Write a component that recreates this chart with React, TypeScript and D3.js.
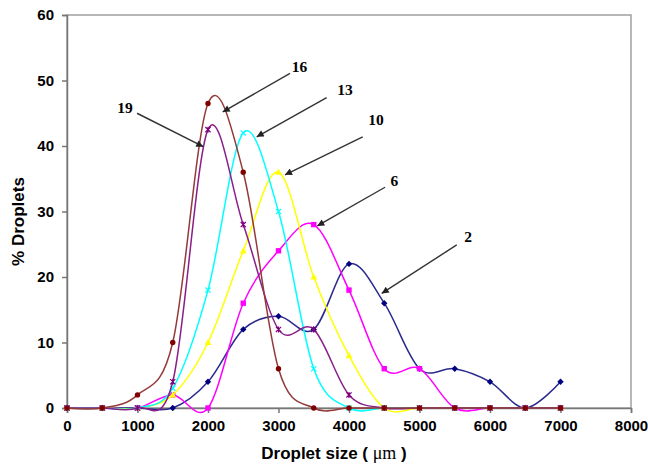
import * as React from 'react';
import * as d3 from 'd3';

// droplet size classes (um)
const sizes = [0, 500, 1000, 1500, 2000, 2500, 3000, 3500, 4000, 4500, 5000, 5500, 6000, 6500, 7000];

// % droplets per curve (label = number shown by the arrow)
const s2 = [0, 0, 0, 0, 4, 12, 14, 12, 22, 16, 6, 6, 4, 0, 4];
const s6 = [0, 0, 0, 2, 0, 16, 24, 28, 18, 6, 6, 0, 0, 0, 0];
const s10 = [0, 0, 0, 2, 10, 24, 36, 20, 8, 0, 0, 0, 0, 0, 0];
const s13 = [0, 0, 0, 3, 18, 42, 30, 6, 0, 0, 0, 0, 0, 0, 0];
const s19 = [0, 0, 0, 4, 42.5, 28, 12, 12, 2, 0, 0, 0, 0, 0, 0];
const s16 = [0, 0, 2, 10, 46.5, 36, 6, 0, 0, 0, 0, 0, 0, 0, 0];

const xTicks = [0, 1000, 2000, 3000, 4000, 5000, 6000, 7000, 8000];
const yTicks = [0, 10, 20, 30, 40, 50, 60];

// annotation labels: text position and arrow start/end in data units
const labelNames = ['19', '16', '13', '10', '6', '2'];
const labelPos = [[823, 45.0], [3298, 51.3], [3943, 47.8], [4383, 43.2], [4645, 33.9], [5688, 25.4]];
const arrowFrom = [[993, 45.0], [3163, 51.1], [3683, 47.4], [4194, 41.4], [4511, 33.7], [5528, 24.9]];
const arrowTo = [[1933, 39.9], [2209, 45.2], [2691, 41.4], [3092, 35.6], [3550, 27.8], [4464, 17.5]];

const series = [
  {name: '2', values: s2, line: '#2b2b8f', fill: '#000080', marker: 'diamond'},
  {name: '6', values: s6, line: '#ff00ff', fill: '#ff00ff', marker: 'square'},
  {name: '10', values: s10, line: '#ffff00', fill: '#ffff00', marker: 'triangle'},
  {name: '13', values: s13, line: '#00ffff', fill: '#00ffff', marker: 'x'},
  {name: '19', values: s19, line: '#8a1f8a', fill: '#800080', marker: 'star'},
  {name: '16', values: s16, line: '#943a3a', fill: '#800000', marker: 'circle'},
];

export default function App() {
  const ref = React.useRef<SVGSVGElement>(null);

  React.useEffect(() => {
    const width = 648;
    const height = 466;
    const margin = {top: 15, right: 17, bottom: 58, left: 67};

    const svg = d3.select(ref.current);
    svg.selectAll('*').remove();

    const x = d3.scaleLinear().domain([0, 8000]).range([margin.left, width - margin.right]);
    const y = d3.scaleLinear().domain([0, 60]).range([height - margin.bottom, margin.top]);

    // frame
    svg.append('rect')
      .attr('x', x(0)).attr('y', y(60))
      .attr('width', x(8000) - x(0)).attr('height', y(0) - y(60))
      .attr('fill', 'none').attr('stroke', '#a0a0a0').attr('stroke-width', 1.5);

    const xAxis = svg.append('g')
      .attr('transform', `translate(0,${y(0)})`)
      .call(d3.axisBottom(x).tickValues(xTicks).tickSize(5).tickPadding(7).tickFormat(d3.format('d')));
    const yAxis = svg.append('g')
      .attr('transform', `translate(${x(0)},0)`)
      .call(d3.axisLeft(y).tickValues(yTicks).tickSize(5).tickPadding(8).tickFormat(d3.format('d')));

    [xAxis, yAxis].forEach(a => {
      a.select('.domain').attr('stroke', '#777').attr('stroke-width', 1.5);
      a.selectAll('.tick line').attr('stroke', '#777').attr('stroke-width', 1.5);
      a.selectAll('.tick text')
        .attr('fill', '#000')
        .style('font-family', '"Liberation Sans", Arial, sans-serif')
        .style('font-weight', 'bold')
        .style('font-size', '15px');
    });

    const line = d3.line<number>()
      .x((d, i) => x(sizes[i]))
      .y(d => y(d))
      .curve(d3.curveCardinal.tension(0));

    series.forEach(s => {
      const g = svg.append('g');
      g.append('path')
        .attr('d', line(s.values))
        .attr('fill', 'none')
        .attr('stroke', s.line)
        .attr('stroke-width', 1.5);

      const pts = g.selectAll('.m').data(s.values).enter().append('g')
        .attr('transform', (d, i) => `translate(${x(sizes[i])},${y(d)})`);

      if (s.marker === 'diamond') {
        pts.append('path').attr('d', 'M0,-3.2L3.2,0L0,3.2L-3.2,0Z').attr('fill', s.fill);
      } else if (s.marker === 'square') {
        pts.append('rect').attr('x', -2.7).attr('y', -2.7).attr('width', 5.4).attr('height', 5.4).attr('fill', s.fill);
      } else if (s.marker === 'triangle') {
        pts.append('path').attr('d', 'M0,-3.6L3.4,2.6L-3.4,2.6Z').attr('fill', s.fill);
      } else if (s.marker === 'x') {
        pts.append('path').attr('d', 'M-2.6,-2.6L2.6,2.6M-2.6,2.6L2.6,-2.6').attr('stroke', s.fill).attr('stroke-width', 1.2);
      } else if (s.marker === 'star') {
        pts.append('path').attr('d', 'M-2.6,-2.6L2.6,2.6M-2.6,2.6L2.6,-2.6M0,-3L0,3').attr('stroke', s.fill).attr('stroke-width', 1.2);
      } else {
        pts.append('circle').attr('r', 2.7).attr('fill', s.fill);
      }
    });

    // arrows and labels
    const defs = svg.append('defs');
    defs.append('marker')
      .attr('id', 'arr')
      .attr('viewBox', '0 0 10 10')
      .attr('refX', 10).attr('refY', 5)
      .attr('markerWidth', 9).attr('markerHeight', 7)
      .attr('markerUnits', 'userSpaceOnUse')
      .attr('orient', 'auto')
      .append('path').attr('d', 'M0,0L10,5L0,10Z').attr('fill', '#222');

    labelNames.forEach((name, i) => {
      svg.append('line')
        .attr('x1', x(arrowFrom[i][0])).attr('y1', y(arrowFrom[i][1]))
        .attr('x2', x(arrowTo[i][0])).attr('y2', y(arrowTo[i][1]))
        .attr('stroke', '#333').attr('stroke-width', 1.4)
        .attr('marker-end', 'url(#arr)');
      svg.append('text')
        .attr('x', x(labelPos[i][0])).attr('y', y(labelPos[i][1]))
        .attr('text-anchor', 'middle')
        .style('font-family', '"Liberation Serif", "Times New Roman", serif')
        .style('font-weight', 'bold')
        .style('font-size', '15.5px')
        .text(name);
    });

    // axis titles
    const xt = svg.append('text')
      .attr('x', 334).attr('y', 459)
      .attr('text-anchor', 'middle')
      .style('font-family', '"Liberation Sans", Arial, sans-serif')
      .style('font-weight', 'bold')
      .style('font-size', '17px');
    xt.append('tspan').text('Droplet size ( ');
    xt.append('tspan').style('font-family', '"Liberation Serif", serif').style('font-weight', 'normal').style('font-size', '18px').text('μm');
    xt.append('tspan').text(' )');

    svg.append('text')
      .attr('transform', `translate(24,${(y(0) + y(60)) / 2 + 10}) rotate(-90)`)
      .attr('text-anchor', 'middle')
      .style('font-family', '"Liberation Sans", Arial, sans-serif')
      .style('font-weight', 'bold')
      .style('font-size', '17px')
      .text('% Droplets');
  }, []);

  return (
    <svg ref={ref} width={648} height={466}
      style={{position: 'absolute', left: 0, top: 0, background: '#fff'}} />
  );
}
